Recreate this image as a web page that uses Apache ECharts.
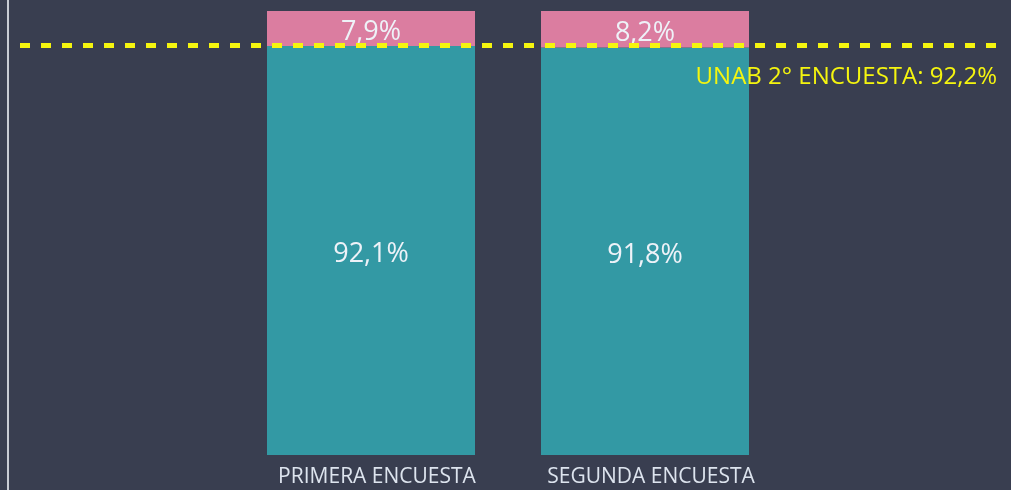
<!DOCTYPE html>
<html>
<head>
<meta charset="utf-8">
<script src="https://cdn.jsdelivr.net/npm/echarts@6/dist/echarts.min.js"></script>
<style>
html, body { margin: 0; padding: 0; background: #393e50; }
#chart { width: 1011px; height: 490px; }
</style>
</head>
<body>
<div id="chart"></div>
<script>
var chart = echarts.init(document.getElementById('chart'));

var categories = ['PRIMERA ENCUESTA', 'SEGUNDA ENCUESTA'];
var yesValues = [92.1, 91.8];
var noValues = [7.9, 8.2];
var targetValue = 92.2;
var targetLabel = 'UNAB 2° ENCUESTA: 92,2%';

var font = '"Open Sans", "Noto Sans", sans-serif';

function pct(v) {
    return v.toFixed(1).replace('.', ',') + '%';
}

var option = {
    backgroundColor: '#393e50',
    animation: false,
    grid: [
        { left: 234, right: 229, top: 11, bottom: 35 },
        { left: 20, right: 14, top: 11, bottom: 35 },
        { left: 8, right: 0, top: 0, bottom: 0 }
    ],
    xAxis: [{
        gridIndex: 0,
        type: 'category',
        data: categories,
        axisLine: { show: false },
        axisTick: { show: false },
        axisLabel: {
            color: '#dde4ee',
            fontSize: 21,
            fontFamily: font,
            margin: 12,
            padding: [0, 0, 0, 12]
        }
    }, {
        gridIndex: 1,
        type: 'value',
        min: 0,
        max: 1,
        show: false
    }, {
        gridIndex: 2,
        type: 'value',
        min: 0,
        max: 1,
        show: false
    }],
    yAxis: [{
        gridIndex: 0,
        type: 'value',
        min: 0,
        max: 100,
        show: false
    }, {
        gridIndex: 1,
        type: 'value',
        min: 0,
        max: 100,
        show: false
    }, {
        gridIndex: 2,
        type: 'value',
        min: 0,
        max: 1,
        axisLine: { show: true, lineStyle: { color: '#c8ccd4', width: 2 } },
        axisTick: { show: false },
        axisLabel: { show: false },
        splitLine: { show: false }
    }],
    series: [{
        name: 'Sí',
        type: 'bar',
        stack: 'total',
        xAxisIndex: 0,
        yAxisIndex: 0,
        barWidth: 208,
        data: yesValues,
        itemStyle: { color: '#3399a4' },
        label: {
            show: true,
            position: 'inside',
            offset: [0, 4],
            color: '#eef2f8',
            fontSize: 27,
            fontFamily: font,
            formatter: function (p) { return pct(p.value); }
        }
    }, {
        name: 'No',
        type: 'bar',
        stack: 'total',
        xAxisIndex: 0,
        yAxisIndex: 0,
        barWidth: 208,
        data: noValues,
        itemStyle: { color: '#db7da0' },
        label: {
            show: true,
            position: 'inside',
            offset: [0, 4],
            color: '#eef2f8',
            fontSize: 27,
            fontFamily: font,
            formatter: function (p) { return pct(p.value); }
        }
    }, {
        name: 'Meta',
        type: 'line',
        xAxisIndex: 1,
        yAxisIndex: 1,
        data: [],
        markLine: {
            silent: true,
            symbol: 'none',
            lineStyle: { color: '#f5f50f', type: [10, 11], width: 5 },
            label: {
                show: true,
                position: 'insideEndBottom',
                distance: [0, 20],
                color: '#f5f50f',
                fontSize: 24,
                fontFamily: font,
                formatter: targetLabel
            },
            data: [{ yAxis: targetValue }]
        }
    }]
};

chart.setOption(option);
</script>
</body>
</html>
